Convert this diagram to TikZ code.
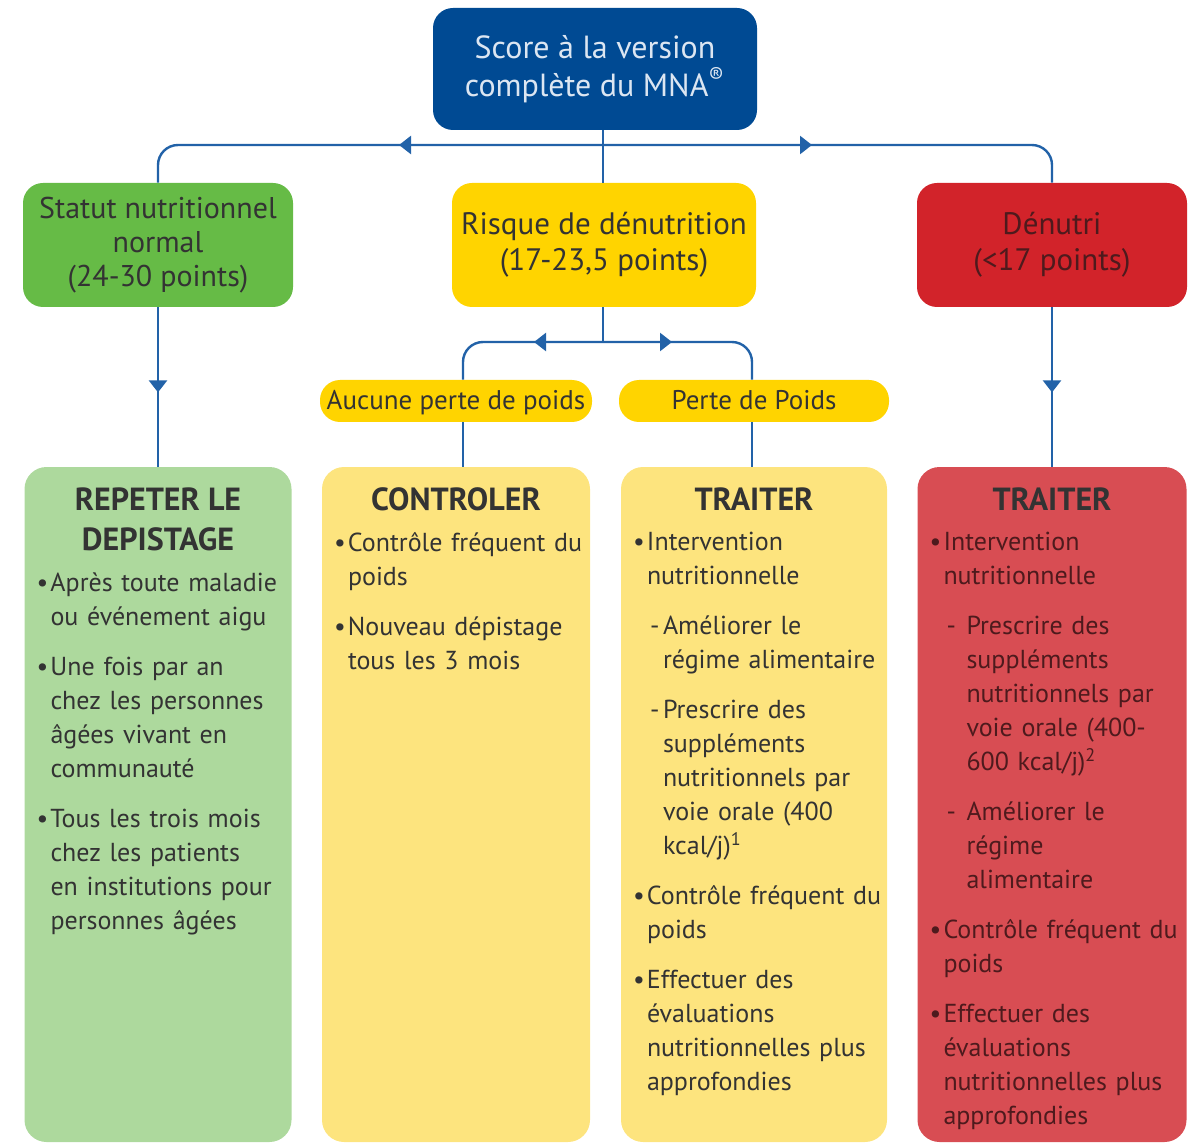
\documentclass[tikz,border=0pt]{standalone}
\usepackage{fontspec}
\setmainfont{PT Sans}
\usetikzlibrary{positioning,arrows.meta,decorations.markings}

\definecolor{mblue}{HTML}{004A93}
\definecolor{ttop}{HTML}{DCE6F2}
\definecolor{ghead}{HTML}{66BB46}
\definecolor{yhead}{HTML}{FFD400}
\definecolor{rhead}{HTML}{D2232A}
\definecolor{gbody}{HTML}{ADD99D}
\definecolor{ybody}{HTML}{FDE47E}
\definecolor{rbody}{HTML}{D84D53}
\definecolor{line}{HTML}{2262A8}
\definecolor{txt}{HTML}{333333}
\definecolor{rtxt}{HTML}{4E1A1D}

% bullet and dash items
\newcommand\itm[1]{\hangindent=7pt\hangafter=1\noindent\makebox[7pt][l]{\textbullet}#1\par\vspace{8pt}}
\newcommand\sub[2][0pt]{\hangindent=\dimexpr15pt+#1\relax\hangafter=1\noindent\hspace*{8.5pt}\makebox[\dimexpr6.5pt+#1\relax][l]{-}#2\par\vspace{8pt}}

\begin{document}
\begin{tikzpicture}[x=0.5pt, y=-0.5pt,
    hdr/.style={rounded corners=10pt, minimum height=62pt, align=center, text=txt,
      font=\fontsize{15}{17}\selectfont},
    body/.style={rounded corners=11pt, minimum height=337.5pt},
    pill/.style={rounded corners=10pt, fill=yhead, minimum height=21pt, text=txt,
      text height=11pt, text depth=2pt, font=\fontsize{13.5}{15}\selectfont},
    ttl/.style={align=center, text=txt, font=\fontsize{16}{20}\selectfont\bfseries},
    lst/.style={anchor=north west, text width=126pt, align=left, inner sep=0pt, text=txt,
      font=\fontsize{13}{17}\selectfont},
    conn/.style={draw=line, line width=1.2pt},
    midarr/.style={postaction=decorate, decoration={markings,
      mark=at position #1 with {\arrow{Triangle[width=9pt,length=6pt]}}}}]
  \useasboundingbox (0,0) rectangle (1199,1144);

  % header boxes
  \node[hdr, fill=mblue, text=ttop, minimum width=162pt, minimum height=61pt,
    font=\fontsize{16}{19}\selectfont] (score) at (595,69) {Score à la version\\complète du MNA\textsuperscript{\textregistered}};
  \node[hdr, fill=ghead, minimum width=135pt] (normal) at (158,245) {Statut nutritionnel\\normal\\(24-30 points)};
  \node[hdr, fill=yhead, minimum width=152pt, font=\fontsize{15.5}{18}\selectfont] (risque) at (604,245) {Risque de dénutrition\\(17-23,5 points)};
  \node[hdr, fill=rhead, text=rtxt, minimum width=135pt, font=\fontsize{15.5}{18}\selectfont] (denutri) at (1052,245) {Dénutri\\(<17 points)};

  \node[pill, minimum width=136pt] (aucune) at (456,401) {Aucune perte de poids};
  \node[pill, minimum width=135pt] (perte) at (754,401) {Perte de Poids};

  % bottom boxes
  \node[body, fill=gbody, minimum width=133.5pt] (repeter) at (158,804.5) {};
  \node[body, fill=ybody, minimum width=134pt] (controler) at (456,804.5) {};
  \node[body, fill=ybody, minimum width=133pt] (traiterY) at (754,804.5) {};
  \node[body, fill=rbody, minimum width=134.5pt] (traiterR) at (1052,804.5) {};

  % connectors
  \coordinate (bar) at (603,145);
  \coordinate (split) at (603,342);
  \coordinate (yl) at (463,342);
  \coordinate (yr) at (752,342);
  \draw[conn] (score.south -| bar) -- (risque.north -| bar);
  \draw[conn, rounded corners=10pt, midarr=102pt] (bar) -| (normal.north);
  \draw[conn, rounded corners=10pt, midarr=104.5pt] (bar) -| (denutri.north);
  \draw[conn, midarr=42.5pt] (normal.south) -- (repeter.north);
  \draw[conn, midarr=42.5pt] (denutri.south) -- (traiterR.north);
  \draw[conn] (risque.south -| split) -- (split);
  \draw[conn, rounded corners=10pt, midarr=34.5pt] (split) -| (yl |- aucune.north);
  \draw[conn, rounded corners=10pt, midarr=34.5pt] (split) -| (yr |- perte.north);
  \draw[conn] (yl |- aucune.south) -- (yl |- controler.north);
  \draw[conn] (yr |- perte.south) -- (yr |- traiterY.north);

  % texts
  \node[ttl, below=7pt of repeter.north] (t-repeter) {REPETER LE\\DEPISTAGE};
  \node[lst, xshift=6pt, yshift=-7pt] (l-repeter) at (repeter.west |- t-repeter.south) {%
    \itm{Après toute maladie\newline ou événement aigu}
    \itm{Une fois par an\newline chez les personnes\newline âgées vivant en\newline communauté}
    \itm{Tous les trois mois\newline chez les patients\newline en institutions pour\newline personnes âgées}};

  \node[ttl, below=7pt of controler.north] (t-controler) {CONTROLER};
  \node[lst, xshift=6pt, yshift=-7pt] (l-controler) at (controler.west |- t-controler.south) {%
    \itm{Contrôle fréquent du\newline poids}
    \itm{Nouveau dépistage\newline tous les 3 mois}};

  \node[ttl, below=7pt of traiterY.north] (t-traiterY) {TRAITER};
  \node[lst, xshift=6pt, yshift=-7pt] (l-traiterY) at (traiterY.west |- t-traiterY.south) {%
    \itm{Intervention\newline nutritionnelle}
    \sub{Améliorer le\newline régime alimentaire}
    \sub{Prescrire des\newline suppléments\newline nutritionnels par\newline voie orale (400\newline kcal/j)\textsuperscript{1}}
    \itm{Contrôle fréquent du\newline poids}
    \itm{Effectuer des\newline évaluations\newline nutritionnelles plus\newline approfondies}};

  \node[ttl, below=7pt of traiterR.north] (t-traiterR) {TRAITER};
  \node[lst, xshift=6pt, yshift=-7pt, text=rtxt] (l-traiterR) at (traiterR.west |- t-traiterR.south) {%
    \itm{Intervention\newline nutritionnelle}
    \sub[3.5pt]{Prescrire des\newline suppléments\newline nutritionnels par\newline voie orale (400-\newline 600 kcal/j)\textsuperscript{2}}
    \sub[3.5pt]{Améliorer le\newline régime\newline alimentaire}
    \itm{Contrôle fréquent du\newline poids}
    \itm{Effectuer des\newline évaluations\newline nutritionnelles plus\newline approfondies}};
\end{tikzpicture}
\end{document}
